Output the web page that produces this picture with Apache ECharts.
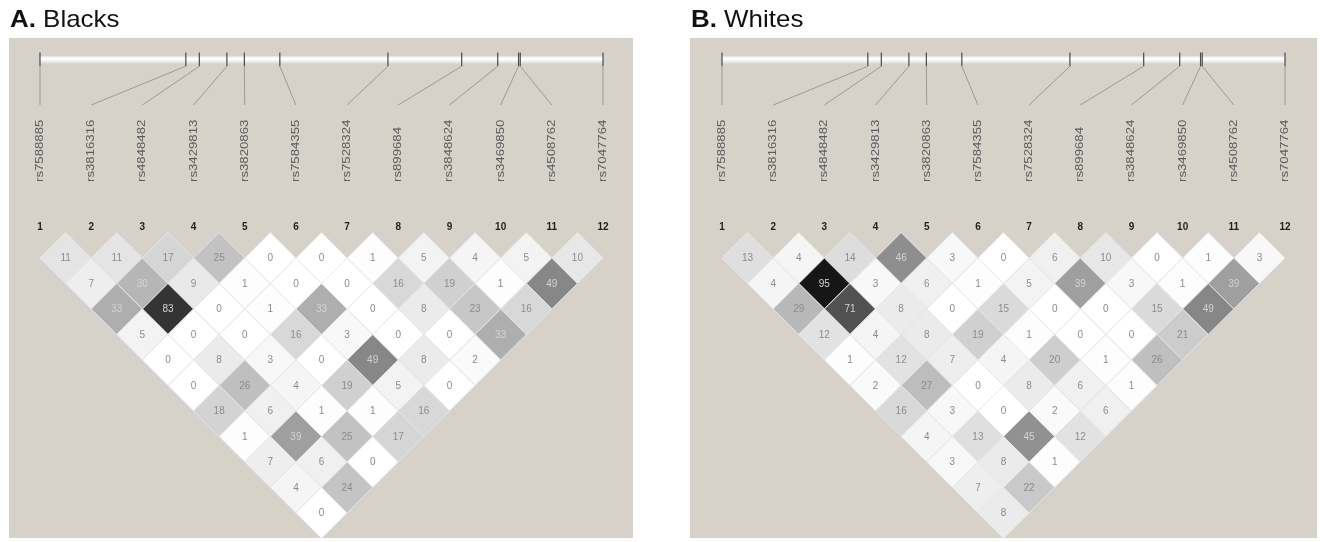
<!DOCTYPE html>
<html>
<head>
<meta charset="utf-8">
<title>LD plots</title>
<script src="https://cdn.jsdelivr.net/npm/echarts@6/dist/echarts.min.js"></script>
<style>
  html, body { margin: 0; padding: 0; background: #ffffff; }
  #chart { width: 1325px; height: 542px; }
</style>
</head>
<body>
<div id="chart"></div>
<script>
// SNP marker numbers and rs identifiers (same 12 markers in both panels)
const snpNumbers = ['1', '2', '3', '4', '5', '6', '7', '8', '9', '10', '11', '12'];
const snpNames = ['rs7588885', 'rs3816316', 'rs4848482', 'rs3429813', 'rs3820863', 'rs7584355',
                  'rs7528324', 'rs899684', 'rs3848624', 'rs3469850', 'rs4508762', 'rs7047764'];
// relative physical position of each marker along the region (0–100)
const mapPosition = [0, 25.9, 28.3, 33.2, 36.3, 42.6, 61.8, 74.9, 81.3, 85.0, 85.3, 100];

// pairwise r² (x100); row k holds the pairs (i, i+k) for i = 1..12-k
const ldBlacks = [
  [11, 11, 17, 25, 0, 0, 1, 5, 4, 5, 10],
  [7, 30, 9, 1, 0, 0, 16, 19, 1, 49],
  [33, 83, 0, 1, 33, 0, 8, 23, 16],
  [5, 0, 0, 16, 3, 0, 0, 33],
  [0, 8, 3, 0, 49, 8, 2],
  [0, 26, 4, 19, 5, 0],
  [18, 6, 1, 1, 16],
  [1, 39, 25, 17],
  [7, 6, 0],
  [4, 24],
  [0]
];
const ldWhites = [
  [13, 4, 14, 46, 3, 0, 6, 10, 0, 1, 3],
  [4, 95, 3, 6, 1, 5, 39, 3, 1, 39],
  [29, 71, 8, 0, 15, 0, 0, 15, 49],
  [12, 4, 8, 19, 1, 0, 0, 21],
  [1, 12, 7, 4, 20, 1, 26],
  [2, 27, 0, 8, 6, 1],
  [16, 3, 0, 2, 6],
  [4, 13, 45, 12],
  [3, 8, 1],
  [7, 22],
  [8]
];

const FONT = '"Liberation Sans", Arial, Helvetica, sans-serif';

// turn the row lists into [centre x, row depth, r², i, j]
function cellData(rows) {
  const out = [];
  rows.forEach(function (row, k) {
    const dist = k + 1;
    row.forEach(function (v, idx) {
      const i = idx + 1, j = i + dist;
      out.push([(i + j) / 2, dist, v, i, j]);
    });
  });
  return out;
}

function headerData() {
  return snpNumbers.map(function (n, idx) {
    return [idx + 1, 1 + 11 * mapPosition[idx] / 100, idx];
  });
}

// diamond for one marker pair, shaded by r²
function renderCell(params, api) {
  const cx = api.value(0), d = api.value(1), v = api.value(2);
  const pts = [
    api.coord([cx, d - 1]), api.coord([cx + 0.5, d]),
    api.coord([cx, d + 1]), api.coord([cx - 0.5, d])
  ];
  const c = api.coord([cx, d]);
  return {
    type: 'group',
    children: [
      { type: 'polygon', shape: { points: pts },
        style: { fill: api.visual('color'), stroke: '#e6e6e6', lineWidth: 1 } },
      { type: 'text', x: c[0], y: c[1] + 0.5,
        style: { text: String(v), fill: v >= 30 ? '#d4d4d4' : '#8c8c8c',
                 font: '10px ' + FONT, align: 'center', verticalAlign: 'middle' } }
    ]
  };
}

// map bar across the region
function renderBar(params, api) {
  const a = api.coord([1, -6.9]);
  const b = api.coord([12, -6.62]);
  return {
    type: 'group',
    children: [
      { type: 'rect', shape: { x: a[0], y: a[1], width: b[0] - a[0], height: b[1] - a[1] },
        style: { fill: { type: 'linear', x: 0, y: 0, x2: 0, y2: 1,
                 colorStops: [{ offset: 0, color: '#f4f4f4' }, { offset: 0.4, color: '#ffffff' },
                              { offset: 1, color: '#d8d8d8' }] } } }
    ]
  };
}

// marker tick on the bar, leader line, rs label and marker number
function renderHeader(params, api) {
  const idx = api.value(0), mx = api.value(1), k = api.value(2);
  const t0 = api.coord([mx, -7.06]);
  const t1 = api.coord([mx, -6.52]);
  const l1 = api.coord([idx, -5.0]);
  const nm = api.coord([idx, -1.98]);
  const nb = api.coord([idx, -0.2]);
  return {
    type: 'group',
    children: [
      { type: 'line', shape: { x1: t0[0], y1: t0[1], x2: t1[0], y2: t1[1] },
        style: { stroke: '#4a4a4a', lineWidth: 1.2 } },
      { type: 'line', shape: { x1: t1[0], y1: t1[1], x2: l1[0], y2: l1[1] },
        style: { stroke: '#9a9a9a', lineWidth: 1 } },
      { type: 'text', x: nm[0], y: nm[1], rotation: Math.PI / 2, scaleX: 1.2,
        style: { text: snpNames[k], fill: '#5c5c5c', font: '11px ' + FONT,
                 align: 'left', verticalAlign: 'middle' } },
      { type: 'text', x: nb[0], y: nb[1],
        style: { text: snpNumbers[k], fill: '#1e1e1e', font: 'bold 10px ' + FONT,
                 align: 'center', verticalAlign: 'middle' } }
    ]
  };
}

const yMin = -7.5, yMax = 12;
function grid(left) {
  return { left: left, width: 563, top: 41.25, height: 497.25, show: false };
}
function xAxis(gi) {
  return { gridIndex: gi, type: 'value', min: 1, max: 12, show: false };
}
function yAxis(gi) {
  return { gridIndex: gi, type: 'value', min: yMin, max: yMax, inverse: true, show: false };
}

function panelSeries(gi, rows) {
  return [
    { type: 'custom', name: 'ld' + gi, xAxisIndex: gi, yAxisIndex: gi, clip: false,
      renderItem: renderCell, data: cellData(rows), encode: { x: 0, y: 1 }, z: 3 },
    { type: 'custom', xAxisIndex: gi, yAxisIndex: gi, clip: false,
      renderItem: renderBar, data: [[1, -6.8]], encode: { x: 0, y: 1 }, z: 2 },
    { type: 'custom', xAxisIndex: gi, yAxisIndex: gi, clip: false,
      renderItem: renderHeader, data: headerData(), encode: { x: 0, y: 1 }, z: 4 }
  ];
}

function panelTitle(x, letter, label) {
  return {
    type: 'text', x: x, y: 20, z: 5, scaleX: 1.08,
    style: { text: '{b|' + letter + '} ' + label, font: '24px ' + FONT, fill: '#111111',
             verticalAlign: 'middle',
             rich: { b: { fontWeight: 'bold', fontSize: 24, fontFamily: FONT, fill: '#111111' } } }
  };
}

const chart = echarts.init(document.getElementById('chart'), null, { renderer: 'canvas' });
chart.setOption({
  backgroundColor: '#ffffff',
  animation: false,
  graphic: [
    { type: 'rect', z: -10, shape: { x: 9, y: 38, width: 624, height: 500 }, style: { fill: '#d6d2ca' } },
    { type: 'rect', z: -10, shape: { x: 690, y: 38, width: 627, height: 500 }, style: { fill: '#d6d2ca' } },
    panelTitle(10, 'A.', 'Blacks'),
    panelTitle(691, 'B.', 'Whites')
  ],
  grid: [grid(40), grid(722)],
  xAxis: [xAxis(0), xAxis(1)],
  yAxis: [yAxis(0), yAxis(1)],
  visualMap: {
    show: false, type: 'continuous', min: 0, max: 100, dimension: 2,
    seriesIndex: [0, 3], inRange: { color: ['#ffffff', '#0a0a0a'] }
  },
  series: panelSeries(0, ldBlacks).concat(panelSeries(1, ldWhites))
});
</script>
</body>
</html>
